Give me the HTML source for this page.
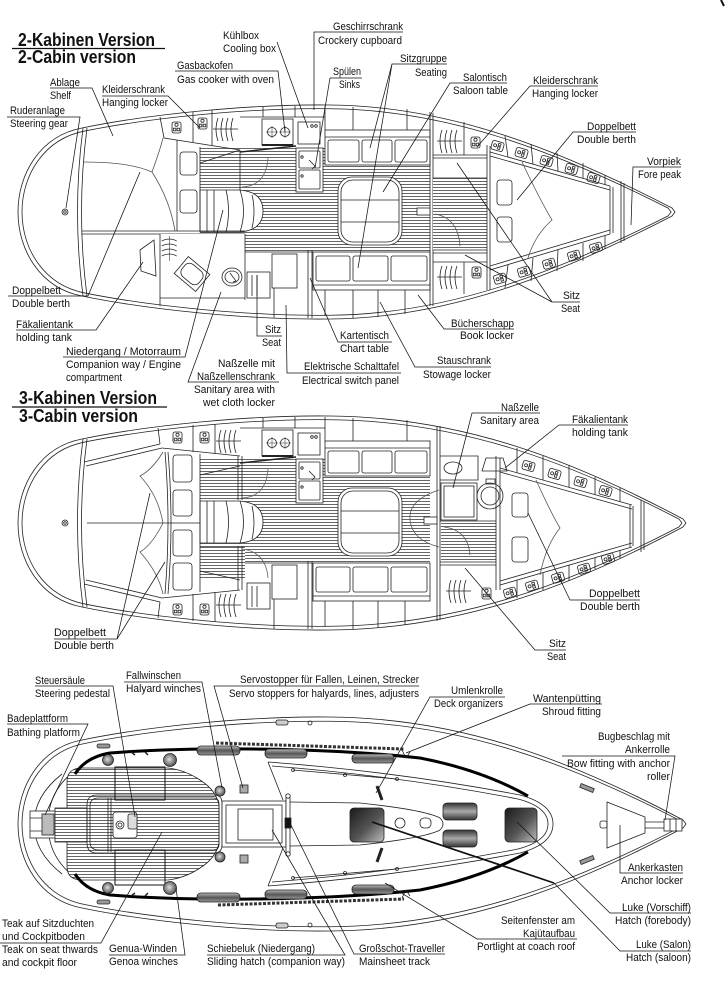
<!DOCTYPE html>
<html><head><meta charset="utf-8">
<style>
html,body{margin:0;padding:0;background:#fff;width:727px;height:1000px;overflow:hidden}
svg{display:block}
text{font-family:"Liberation Sans",Arial,sans-serif;font-size:11px;fill:#111}
text.t{font-size:18px;font-weight:bold}
</style></head><body>
<svg xmlns="http://www.w3.org/2000/svg" width="727" height="1000" viewBox="0 0 727 1000">
<defs>
<pattern id="hatch" width="8" height="3" patternUnits="userSpaceOnUse"><rect width="8" height="3" fill="#fff"/><path d="M0,1.5 H8" stroke="#555" stroke-width="0.9"/></pattern>
<linearGradient id="dk" x1="0" y1="0" x2="1" y2="1"><stop offset="0" stop-color="#1a1a1a"/><stop offset="0.55" stop-color="#555"/><stop offset="1" stop-color="#bdbdbd"/></linearGradient>
<linearGradient id="dk2" x1="0" y1="0" x2="0" y2="1"><stop offset="0" stop-color="#333"/><stop offset="0.5" stop-color="#aaa"/><stop offset="1" stop-color="#333"/></linearGradient>
<radialGradient id="wn" cx="0.45" cy="0.45" r="0.6"><stop offset="0" stop-color="#ddd"/><stop offset="1" stop-color="#444"/></radialGradient>
<linearGradient id="car" x1="0" y1="0" x2="0" y2="1"><stop offset="0" stop-color="#bbb"/><stop offset="0.5" stop-color="#555"/><stop offset="1" stop-color="#999"/></linearGradient>
<path id="h1" d="M82,-84 C150,-98 250,-108 330,-107 C450,-106 560,-62 672,-4 L675,0 L672,4 C560,62 450,106 330,107 C250,108 150,98 82,84 C40,76 18,38 18,0 C18,-38 40,-76 82,-84 Z"/>
<path id="h2" d="M82,-84 C150,-98 250,-108 330,-107 C463,-106 574,-62 683,-4 L686,0 L683,4 C574,62 463,106 330,107 C250,108 150,98 82,84 C40,76 18,38 18,0 C18,-38 40,-76 82,-84 Z"/>
<g id="clo"><path d="M0,13 H25 M5,2 Q1,13 5,25 M10,2 Q6,13 10,25 M15,2 Q11,13 15,25 M20,2 Q16,13 20,25"/></g>
<g id="ico"><rect x="0" y="0" width="9" height="11" rx="2"/><circle cx="4.5" cy="2.8" r="1.6"/><rect x="1.3" y="6.2" width="2.6" height="2.6"/><rect x="5.1" y="6.2" width="2.6" height="2.6"/></g>
<g id="ico2"><rect x="0" y="0" width="12" height="9" rx="2"/><circle cx="3.5" cy="4.5" r="1.5"/><rect x="6.5" y="1.6" width="2.4" height="2.4"/><rect x="6.5" y="5" width="2.4" height="2.4"/></g>
<g id="mid">
<rect x="200" y="148" width="230" height="104" fill="url(#hatch)" stroke="none"/>
<path d="M240,117 H325 M263,107 V117 M295,106 V117 M325,106 V130"/>
<rect x="262" y="119" width="31" height="26" fill="#fff"/>
<path d="M262,145 H293" stroke-width="2"/>
<circle cx="272" cy="132" r="4.5"/><circle cx="285" cy="132" r="4.5"/>
<path d="M266,132 H278 M272,126 V138 M279,132 H291 M285,126 V138" stroke-width="0.5"/>
<rect x="298" y="122" width="22" height="22" fill="#fff"/>
<circle cx="316" cy="126" r="1.3"/><circle cx="312" cy="126" r="1.3"/>
<rect x="296" y="148" width="27" height="44" fill="#fff"/>
<rect x="299" y="151" width="21" height="17" rx="1"/>
<rect x="299" y="170" width="21" height="19" rx="1"/>
<circle cx="302" cy="157" r="1.2"/><circle cx="302" cy="176" r="1.2"/>
<path d="M309,160 L315,166 L312,169"/>
<path d="M240,152 L296,146" stroke-width="1.4"/>
<rect x="325" y="130" width="105" height="35" fill="#fff"/>
<path d="M325,137 H430 M353,107 V130 M407,109 V130"/>
<rect x="328" y="140" width="31" height="22" rx="2"/>
<rect x="362" y="140" width="30" height="22" rx="2"/>
<rect x="395" y="140" width="32" height="22" rx="2"/>
<rect x="338" y="177" width="64" height="68" rx="14" fill="#fff"/>
<rect x="341" y="180" width="58" height="62" rx="12"/>
<path d="M341,200 H399 M341,222 H399"/>
<rect x="313" y="252" width="117" height="38" fill="#fff"/>
<rect x="316" y="256" width="34" height="25" rx="2"/>
<rect x="353" y="256" width="35" height="25" rx="2"/>
<rect x="391" y="256" width="36" height="25" rx="2"/>
<path d="M313,285 H430 M325,290 V316 M353,290 V318 M378,290 V317 M405,290 V314"/>
<path d="M245,252 H313 M308,250 V318 M312,250 V318"/>
<rect x="272" y="254" width="25" height="34" fill="#fff"/>
<rect x="247" y="272" width="23" height="26" fill="#fff"/>
<path d="M252,275 V296 M257,275 V296 M274,288 V318"/>
<path d="M200,190 H240 Q263,192 263,211 Q263,230 240,232 H200 Z" fill="#fff"/>
<path d="M207,190 V232 M214,190 V232 M226,190 Q231,211 226,232 M240,190 Q247,211 240,232 M252,195 Q256,211 252,228"/>
<path d="M242,187 Q266,186 268,158" stroke="#666"/>
</g>
</defs>
<rect width="727" height="1000" fill="#fff"/>
<path d="M721,0 L724,6" stroke="#111" stroke-width="2"/>

<!-- ============ HULL 1 ============ -->
<g fill="none" stroke="#222" stroke-width="0.8">
<g transform="translate(0,212)">
<use href="#h1"/>
<use href="#h1" transform="translate(352,0) scale(0.988,0.965) translate(-352,0)"/>
<path d="M83,-84 Q72,0 83,84 M87,-84 Q76,0 87,84"/>
<circle cx="65" cy="0" r="3"/><circle cx="65" cy="0" r="1.3"/>
</g>
<use href="#mid"/>
<path d="M82,231 H245 M82,234 H245"/>
<path d="M177,140 V231 M200,147 V231"/>
<rect x="180" y="152" width="17" height="23" rx="3"/>
<rect x="180" y="190" width="17" height="23" rx="3"/>
<path d="M84,162 Q130,162 152,172 Q160,150 163,138 M152,172 Q170,200 175,231" stroke="#555"/>
<path d="M160,117 L164,138 L240,150 M193,112 V142 M212,110 V146 M200,163 L240,150 M240,150 V190"/>
<use href="#ico" x="172" y="122"/>
<use href="#ico" x="198" y="118"/>
<use href="#clo" x="213" y="116"/>
<rect x="160" y="234" width="85" height="64" fill="#fff" stroke="none"/>
<path d="M160,234 V306 M245,234 V300 M160,298 H245"/>
<path d="M140,250 L154,240 L156,276 L141,271 Z"/>
<use href="#clo" transform="translate(178,236) rotate(90) scale(1,0.65)"/>
<g transform="translate(192,274) rotate(40)"><rect x="-14" y="-11" width="28" height="22"/><rect x="-11" y="-8" width="22" height="16" rx="6"/></g>
<ellipse cx="232" cy="277" rx="10" ry="9"/><ellipse cx="232" cy="277" rx="7" ry="6"/>
<path d="M230,273 L236,281 L233,282"/>
<path d="M430,112 V306 M433,113 V306"/>
<rect x="433" y="178" width="54" height="72" fill="url(#hatch)" stroke="none"/>
<path d="M433,155 H487 M433,158 H487 M433,178 H487 M433,250 H487 M433,253 H487 M433,262 H487 M464,122 V155 M464,262 V294"/>
<use href="#clo" x="437" y="128"/>
<use href="#ico" x="471" y="137"/>
<use href="#clo" x="437" y="264"/>
<use href="#ico" x="472" y="267"/>
<path d="M435,214 Q458,218 460,246" stroke="#555"/>
<rect x="417" y="208" width="13" height="7" fill="#fff"/>
<path d="M487,145 V290 M490,146 V290"/>
<path d="M490,152 L610,186 M490,156 L610,190 M490,270 L610,234 M490,266 L610,230"/>
<path d="M610,186 V234 M613,187 V233 M621,181 V243 M624,183 V241"/>
<path d="M508,157 L505,136 M533,164 L531,144 M558,171 L557,153 M583,178 L583,163 M605,185 L605,175"/>
<path d="M508,265 L505,288 M533,258 L531,281 M558,250 L557,271 M583,243 L583,261 M605,236 L605,249"/>
<use href="#ico2" transform="translate(493,140) rotate(16)"/>
<use href="#ico2" transform="translate(517,147) rotate(16)"/>
<use href="#ico2" transform="translate(542,155) rotate(16)"/>
<use href="#ico2" transform="translate(567,163) rotate(16)"/>
<use href="#ico2" transform="translate(589,172) rotate(16)"/>
<use href="#ico2" transform="translate(493,276) rotate(-16)"/>
<use href="#ico2" transform="translate(517,269) rotate(-16)"/>
<use href="#ico2" transform="translate(542,261) rotate(-16)"/>
<use href="#ico2" transform="translate(567,253) rotate(-16)"/>
<use href="#ico2" transform="translate(589,245) rotate(-16)"/>
<rect x="497" y="180" width="15" height="25" rx="3"/>
<rect x="497" y="217" width="15" height="25" rx="3"/>
<path d="M522,162 Q540,200 552,220 Q535,235 528,258" stroke="#555"/>
</g>

<!-- ============ HULL 2 ============ -->
<g fill="none" stroke="#222" stroke-width="0.8">
<g transform="translate(0,523)">
<use href="#h2"/>
<use href="#h2" transform="translate(352,0) scale(0.988,0.965) translate(-352,0)"/>
<path d="M83,-84 Q72,0 83,84 M87,-84 Q76,0 87,84"/>
<circle cx="65" cy="0" r="3"/><circle cx="65" cy="0" r="1.3"/>
</g>
<use href="#mid" y="311"/>
<rect x="200" y="547" width="45" height="33" fill="url(#hatch)" stroke="none"/>
<path d="M87,523 H200"/>
<path d="M84,462 L160,444 M86,466 L162,448 M84,584 L160,602 M86,580 L162,598"/>
<path d="M160,444 L158,428 M160,602 L158,618"/>
<path d="M162,448 L240,456 M162,598 L240,590 M193,425 V452 M215,424 V454 M193,594 V621 M215,592 V622"/>
<use href="#ico" x="173" y="432"/><use href="#ico" x="200" y="432"/><use href="#clo" x="216" y="428"/>
<use href="#ico" x="173" y="604"/><use href="#ico" x="200" y="604"/><use href="#clo" x="216" y="592"/>
<path d="M165,452 Q171,523 165,594 M168,452 Q174,523 168,594"/>
<rect x="173" y="455" width="19" height="27" rx="3"/><rect x="173" y="490" width="19" height="26" rx="3"/>
<rect x="173" y="530" width="19" height="26" rx="3"/><rect x="173" y="563" width="19" height="27" rx="3"/>
<path d="M200,454 V592"/>
<path d="M163,452 Q152,470 140,476 Q158,495 163,523 M163,523 Q152,545 140,552 Q158,572 163,594" stroke="#555"/>
<path d="M200,475 L240,466 M200,571 L240,580 M238,456 V500 M242,456 V500 M238,546 V590 M242,546 V590"/>
<path d="M242,549 Q266,552 268,578" stroke="#666"/>
<path d="M437,426 V621 M440,426 V620"/>
<rect x="441" y="523" width="55" height="38" fill="url(#hatch)" stroke="none"/>
<path d="M439,490 Q408,500 410,520 Q412,540 439,547" stroke="#555"/>
<rect x="424" y="517" width="13" height="7" fill="#fff"/>
<path d="M440,456 H478 V480 H440"/>
<ellipse cx="453" cy="468" rx="9" ry="6"/>
<rect x="441" y="483" width="36" height="37" fill="#fff"/>
<rect x="444" y="486" width="30" height="31"/>
<circle cx="490" cy="496" r="13"/><circle cx="490" cy="496" r="9"/>
<rect x="486" y="479" width="9" height="5"/>
<path d="M482,471 L486,458 H503 L507,471 Z"/>
<path d="M440,521 H496 M440,562 H496 M440,565 H496"/>
<path d="M444,527 Q468,530 470,555" stroke="#555"/>
<use href="#clo" x="446" y="578"/>
<use href="#ico" x="482" y="588"/>
<path d="M496,456 V590 M500,458 V590"/>
<path d="M500,468 L632,505 M500,472 L632,509 M500,581 L632,543 M500,585 L632,547"/>
<path d="M630,505 V547 M633,506 V546 M641,500 V552 M644,502 V550"/>
<path d="M517,473 L517,448 M543,480 L543,456 M569,487 L569,465 M595,495 L595,477 M620,502 L620,488"/>
<path d="M517,580 L517,598 M543,573 L543,590 M569,565 L569,581 M595,558 L595,569 M620,550 L620,558"/>
<use href="#ico2" transform="translate(524,460) rotate(16)"/>
<use href="#ico2" transform="translate(550,468) rotate(16)"/>
<use href="#ico2" transform="translate(576,476) rotate(16)"/>
<use href="#ico2" transform="translate(601,485) rotate(16)"/>
<use href="#ico2" transform="translate(503,590) rotate(-16)"/>
<use href="#ico2" transform="translate(525,583) rotate(-16)"/>
<use href="#ico2" transform="translate(551,575) rotate(-16)"/>
<use href="#ico2" transform="translate(577,566) rotate(-16)"/>
<use href="#ico2" transform="translate(601,556) rotate(-16)"/>
<rect x="512" y="493" width="16" height="24" rx="3"/>
<rect x="512" y="537" width="16" height="25" rx="3"/>
<path d="M536,480 Q552,515 560,528 Q546,545 540,575" stroke="#555"/>
</g>

<!-- ============ DECK ============ -->
<g fill="none" stroke="#222" stroke-width="0.8">
<g transform="translate(0,824)">
<use href="#h2"/>
<use href="#h2" transform="translate(352,0) scale(0.988,0.96) translate(-352,0)"/>
</g>
<path d="M76,770 Q48,790 48,824 Q48,858 76,878"/>
<path d="M62,774 Q34,796 34,824 Q34,852 62,874"/>
<rect x="30" y="811" width="26" height="27" fill="#fff"/>
<rect x="42" y="814" width="12" height="21" fill="#bbb"/>
<path d="M30,818 H42 M30,831 H42"/>
<path d="M67,782 Q67,768 82,768 H168 Q185,770 200,780 Q216,790 219,805 V843 Q216,858 200,868 Q185,878 168,880 H82 Q67,880 67,866 Z" fill="url(#hatch)"/>
<rect x="55" y="808" width="32" height="34" fill="url(#hatch)"/>
<path d="M97,795 H214 Q222,795 222,803 V845 Q222,853 214,853 H97 Q87,853 87,843 V805 Q87,795 97,795 Z"/>
<path d="M99,798 H213 Q219,798 219,804 V844 Q219,850 213,850 H99 Q90,850 90,842 V806 Q90,798 99,798 Z"/>
<rect x="115" y="767" width="50" height="33" stroke="#111" stroke-width="1"/>
<rect x="115" y="850" width="50" height="35" stroke="#111" stroke-width="1"/>
<path d="M108,798 V852 M111,798 V852"/>
<rect x="113" y="812" width="24" height="26" rx="3" fill="#fff"/>
<circle cx="120" cy="825" r="4"/><circle cx="120" cy="825" r="2"/>
<rect x="128" y="814" width="9" height="15" rx="2" fill="#ddd"/>
<path d="M75,774 Q86,757 110,753 C200,746 330,748 420,758 Q482,770 528,796" stroke="#000" stroke-width="3"/>
<path d="M75,874 Q86,891 110,895 C200,902 330,900 420,890 Q482,878 528,852" stroke="#000" stroke-width="3"/>
<path d="M216,743 L404,749" stroke="#333" stroke-width="3" stroke-dasharray="3 1.5"/>
<path d="M218,905 L404,899" stroke="#333" stroke-width="3" stroke-dasharray="3 1.5"/>
<rect x="197" y="746" width="43" height="9" rx="4" fill="url(#car)"/>
<rect x="265" y="749" width="42" height="9" rx="4" fill="url(#car)"/>
<rect x="352" y="754" width="42" height="9" rx="4" fill="url(#car)"/>
<rect x="197" y="893" width="43" height="9" rx="4" fill="url(#car)"/>
<rect x="265" y="890" width="42" height="9" rx="4" fill="url(#car)"/>
<rect x="352" y="885" width="42" height="9" rx="4" fill="url(#car)"/>
<circle cx="108" cy="760" r="5.5" fill="url(#wn)"/><circle cx="170" cy="760" r="6.5" fill="url(#wn)"/><circle cx="220" cy="791" r="5" fill="url(#wn)"/>
<circle cx="108" cy="888" r="5.5" fill="url(#wn)"/><circle cx="170" cy="888" r="6.5" fill="url(#wn)"/><circle cx="220" cy="857" r="5" fill="url(#wn)"/>
<rect x="240" y="785" width="8" height="8" fill="#aaa"/><rect x="240" y="855" width="8" height="8" fill="#aaa"/>
<path d="M131,752 l4,3 M145,752 l3,3 M131,896 l4,-3 M145,896 l3,-3" stroke-width="1.5"/>
<rect x="222" y="801" width="64" height="46" fill="#fff"/>
<rect x="226" y="805" width="56" height="38"/>
<rect x="238" y="809" width="35" height="31"/>
<rect x="286" y="795" width="4" height="60" fill="#fff"/>
<rect x="285" y="818" width="6" height="10" fill="#111"/>
<circle cx="288" cy="796" r="2.2" fill="#fff"/><circle cx="288" cy="854" r="2.2" fill="#fff"/>
<path d="M268,762 Q400,772 520,795 Q553,804 553,824 Q553,844 520,853 Q400,876 268,886"/>
<path d="M272,766 Q400,776 518,799 Q548,807 548,824 Q548,841 518,849 Q400,872 272,882"/>
<path d="M268,762 L283,800 M268,886 L283,848"/>
<path d="M290,802 L360,803 Q425,810 440,818 Q446,824 440,830 Q425,838 360,845 L290,846"/>
<path d="M293,770 L397,779 M293,878 L397,869"/>
<circle cx="293" cy="770" r="1.5"/><circle cx="345" cy="775" r="1.5"/><circle cx="397" cy="779" r="1.5"/>
<circle cx="293" cy="878" r="1.5"/><circle cx="345" cy="873" r="1.5"/><circle cx="397" cy="869" r="1.5"/>
<rect x="350" y="808" width="34" height="34" rx="4" fill="url(#dk)"/>
<circle cx="400" cy="823" r="5"/>
<rect x="420" y="818" width="11" height="10" rx="4"/>
<rect x="443" y="803" width="34" height="17" rx="4" fill="url(#dk2)"/>
<rect x="443" y="830" width="34" height="17" rx="4" fill="url(#dk2)"/>
<rect x="505" y="808" width="32" height="34" rx="4" fill="url(#dk)"/>
<path d="M377,786 L382,800 M377,862 L382,848" stroke-width="3"/>
<path d="M402,750 L406,758 L410,752 M402,898 L406,890 L410,896"/>
<rect x="276" y="720" width="12" height="5" rx="2" fill="#ccc"/><circle cx="310" cy="723" r="2"/>
<rect x="276" y="923" width="12" height="5" rx="2" fill="#ccc"/><circle cx="310" cy="925" r="2"/>
<rect x="97" y="744" width="13" height="4" rx="2" fill="#999"/><rect x="97" y="900" width="13" height="4" rx="2" fill="#999"/>
<rect x="580" y="786" width="14" height="4" transform="rotate(22 587 788)" fill="#999"/>
<rect x="580" y="858" width="14" height="4" transform="rotate(-22 587 860)" fill="#999"/>
<path d="M607,802 L645,817 L645,833 L607,848 Z"/>
<rect x="600" y="821" width="7" height="7" rx="2"/>
<path d="M645,822 H665 M645,828 H665"/>
<rect x="664" y="819" width="18" height="12" fill="#fff"/>
<path d="M670,819 V831 M676,819 V831"/>
</g>

<!-- ============ TITLES ============ -->
<text class="t" x="18" y="46" textLength="137" lengthAdjust="spacingAndGlyphs">2-Kabinen Version</text>
<text class="t" x="18" y="63" textLength="118" lengthAdjust="spacingAndGlyphs">2-Cabin version</text>
<path d="M12,48.5 H165 M12,407 H167" stroke="#111" stroke-width="1.3"/>
<text class="t" x="19" y="404" textLength="138" lengthAdjust="spacingAndGlyphs">3-Kabinen Version</text>
<text class="t" x="19" y="422" textLength="119" lengthAdjust="spacingAndGlyphs">3-Cabin version</text>

<!-- ============ LEADERS ============ -->
<g fill="none" stroke="#111" stroke-width="0.75">
<path d="M277,42 L308,128"/>
<path d="M403,32 H314 V110"/>
<path d="M175,71 H278 L285,132"/>
<path d="M50,88 H92 L113,136"/>
<path d="M102,96 H168 L200,128"/>
<path d="M7,117 H80 L66,208"/>
<path d="M362,78 H330 L315,168"/>
<path d="M447,64 H392 L370,148 M392,64 L358,268"/>
<path d="M507,83 H450 L383,192"/>
<path d="M598,86 H530 L477,147"/>
<path d="M636,132 H573 L517,200"/>
<path d="M681,167 H633 L631,225"/>
<path d="M8,296 H88 L140,172"/>
<path d="M16,330 H96 L143,262"/>
<path d="M63,357 H185 L223,210"/>
<path d="M279,382 H188 L221,292"/>
<path d="M282,336 H257 V275"/>
<path d="M392,342 H338 L310,278"/>
<path d="M401,373 H287 L286,305"/>
<path d="M491,367 H415 L380,302"/>
<path d="M514,329 H444 L418,295"/>
<path d="M580,302 H552 L457,163 M552,302 L465,255"/>
<path d="M540,413 H472 L453,488"/>
<path d="M628,425 H559 L505,468"/>
<path d="M640,600 H570 L528,513"/>
<path d="M566,650 H535 L465,568"/>
<path d="M54,639 H117 L150,493 M117,639 L165,562"/>
<path d="M35,686 H113 L135,817"/>
<path d="M124,682 H202 L222,788"/>
<path d="M419,686 H214 L243,788"/>
<path d="M505,697 H430 L376,793"/>
<path d="M602,704 H530 L406,753"/>
<path d="M7,724 H88 L45,815"/>
<path d="M562,756 H675 L665,820"/>
<path d="M683,873 H620 V825"/>
<path d="M691,913 H610 L517,822"/>
<path d="M691,951 H620 L554,883"/>
<path d="M554,883 L372,822" stroke-width="1.7"/>
<path d="M577,939 H477 L385,883"/>
<path d="M445,954 H354 L290,823"/>
<path d="M207,955 H345 L272,830"/>
<path d="M109,955 H185 L176,888"/>
<path d="M0,943 H101 L162,832"/>
</g>

<!-- ============ LABELS ============ -->
<g>
<text x="223" y="39" textLength="36" lengthAdjust="spacingAndGlyphs">Kühlbox</text>
<text x="223" y="52" textLength="53" lengthAdjust="spacingAndGlyphs">Cooling box</text>
<text x="333" y="30" textLength="70" lengthAdjust="spacingAndGlyphs">Geschirrschrank</text>
<text x="318" y="44" textLength="84" lengthAdjust="spacingAndGlyphs">Crockery cupboard</text>
<text x="177" y="69" textLength="56" lengthAdjust="spacingAndGlyphs">Gasbackofen</text>
<text x="177" y="83" textLength="97" lengthAdjust="spacingAndGlyphs">Gas cooker with oven</text>
<text x="50" y="86" textLength="30" lengthAdjust="spacingAndGlyphs">Ablage</text>
<text x="50" y="99" textLength="21" lengthAdjust="spacingAndGlyphs">Shelf</text>
<text x="102" y="93" textLength="63" lengthAdjust="spacingAndGlyphs">Kleiderschrank</text>
<text x="102" y="106" textLength="66" lengthAdjust="spacingAndGlyphs">Hanging locker</text>
<text x="10" y="114" textLength="55" lengthAdjust="spacingAndGlyphs">Ruderanlage</text>
<text x="10" y="127" textLength="58" lengthAdjust="spacingAndGlyphs">Steering gear</text>
<text x="333" y="75" textLength="28" lengthAdjust="spacingAndGlyphs">Spülen</text>
<text x="339" y="88" textLength="21" lengthAdjust="spacingAndGlyphs">Sinks</text>
<text x="400" y="62" textLength="47" lengthAdjust="spacingAndGlyphs">Sitzgruppe</text>
<text x="415" y="76" textLength="32" lengthAdjust="spacingAndGlyphs">Seating</text>
<text x="463" y="81" textLength="44" lengthAdjust="spacingAndGlyphs">Salontisch</text>
<text x="453" y="94" textLength="55" lengthAdjust="spacingAndGlyphs">Saloon table</text>
<text x="533" y="84" textLength="65" lengthAdjust="spacingAndGlyphs">Kleiderschrank</text>
<text x="532" y="97" textLength="66" lengthAdjust="spacingAndGlyphs">Hanging locker</text>
<text x="587" y="130" textLength="49" lengthAdjust="spacingAndGlyphs">Doppelbett</text>
<text x="577" y="143" textLength="59" lengthAdjust="spacingAndGlyphs">Double berth</text>
<text x="647" y="165" textLength="34" lengthAdjust="spacingAndGlyphs">Vorpiek</text>
<text x="638" y="178" textLength="43" lengthAdjust="spacingAndGlyphs">Fore peak</text>
<text x="12" y="294" textLength="49" lengthAdjust="spacingAndGlyphs">Doppelbett</text>
<text x="12" y="307" textLength="58" lengthAdjust="spacingAndGlyphs">Double berth</text>
<text x="16" y="328" textLength="57" lengthAdjust="spacingAndGlyphs">Fäkalientank</text>
<text x="16" y="341" textLength="56" lengthAdjust="spacingAndGlyphs">holding tank</text>
<text x="66" y="355" textLength="115" lengthAdjust="spacingAndGlyphs">Niedergang / Motorraum</text>
<text x="66" y="368" textLength="115" lengthAdjust="spacingAndGlyphs">Companion way / Engine</text>
<text x="66" y="381" textLength="56" lengthAdjust="spacingAndGlyphs">compartment</text>
<text x="218" y="367" textLength="57" lengthAdjust="spacingAndGlyphs">Naßzelle mit</text>
<text x="197" y="380" textLength="78" lengthAdjust="spacingAndGlyphs">Naßzellenschrank</text>
<text x="194" y="393" textLength="81" lengthAdjust="spacingAndGlyphs">Sanitary area with</text>
<text x="203" y="406" textLength="72" lengthAdjust="spacingAndGlyphs">wet cloth locker</text>
<text x="265" y="333" textLength="16" lengthAdjust="spacingAndGlyphs">Sitz</text>
<text x="262" y="346" textLength="19" lengthAdjust="spacingAndGlyphs">Seat</text>
<text x="340" y="339" textLength="49" lengthAdjust="spacingAndGlyphs">Kartentisch</text>
<text x="340" y="352" textLength="49" lengthAdjust="spacingAndGlyphs">Chart table</text>
<text x="304" y="370" textLength="95" lengthAdjust="spacingAndGlyphs">Elektrische Schalttafel</text>
<text x="302" y="384" textLength="97" lengthAdjust="spacingAndGlyphs">Electrical switch panel</text>
<text x="437" y="364" textLength="54" lengthAdjust="spacingAndGlyphs">Stauschrank</text>
<text x="423" y="378" textLength="68" lengthAdjust="spacingAndGlyphs">Stowage locker</text>
<text x="451" y="327" textLength="63" lengthAdjust="spacingAndGlyphs">Bücherschapp</text>
<text x="460" y="339" textLength="54" lengthAdjust="spacingAndGlyphs">Book locker</text>
<text x="563" y="299" textLength="17" lengthAdjust="spacingAndGlyphs">Sitz</text>
<text x="561" y="312" textLength="19" lengthAdjust="spacingAndGlyphs">Seat</text>

<text x="501" y="411" textLength="38" lengthAdjust="spacingAndGlyphs">Naßzelle</text>
<text x="480" y="424" textLength="59" lengthAdjust="spacingAndGlyphs">Sanitary area</text>
<text x="572" y="423" textLength="56" lengthAdjust="spacingAndGlyphs">Fäkalientank</text>
<text x="572" y="436" textLength="56" lengthAdjust="spacingAndGlyphs">holding tank</text>
<text x="589" y="597" textLength="51" lengthAdjust="spacingAndGlyphs">Doppelbett</text>
<text x="580" y="610" textLength="60" lengthAdjust="spacingAndGlyphs">Double berth</text>
<text x="549" y="647" textLength="17" lengthAdjust="spacingAndGlyphs">Sitz</text>
<text x="547" y="660" textLength="19" lengthAdjust="spacingAndGlyphs">Seat</text>
<text x="54" y="636" textLength="52" lengthAdjust="spacingAndGlyphs">Doppelbett</text>
<text x="54" y="649" textLength="60" lengthAdjust="spacingAndGlyphs">Double berth</text>

<text x="35" y="684" textLength="50" lengthAdjust="spacingAndGlyphs">Steuersäule</text>
<text x="35" y="697" textLength="75" lengthAdjust="spacingAndGlyphs">Steering pedestal</text>
<text x="126" y="679" textLength="55" lengthAdjust="spacingAndGlyphs">Fallwinschen</text>
<text x="126" y="692" textLength="75" lengthAdjust="spacingAndGlyphs">Halyard winches</text>
<text x="240" y="683" textLength="179" lengthAdjust="spacingAndGlyphs">Servostopper für Fallen, Leinen, Strecker</text>
<text x="229" y="697" textLength="190" lengthAdjust="spacingAndGlyphs">Servo stoppers for halyards, lines, adjusters</text>
<text x="451" y="694" textLength="52" lengthAdjust="spacingAndGlyphs">Umlenkrolle</text>
<text x="434" y="707" textLength="69" lengthAdjust="spacingAndGlyphs">Deck organizers</text>
<text x="533" y="702" textLength="68" lengthAdjust="spacingAndGlyphs">Wantenpütting</text>
<text x="542" y="715" textLength="59" lengthAdjust="spacingAndGlyphs">Shroud fitting</text>
<text x="7" y="722" textLength="61" lengthAdjust="spacingAndGlyphs">Badeplattform</text>
<text x="7" y="736" textLength="73" lengthAdjust="spacingAndGlyphs">Bathing platform</text>
<text x="598" y="740" textLength="72" lengthAdjust="spacingAndGlyphs">Bugbeschlag mit</text>
<text x="625" y="753" textLength="45" lengthAdjust="spacingAndGlyphs">Ankerrolle</text>
<text x="567" y="767" textLength="103" lengthAdjust="spacingAndGlyphs">Bow fitting with anchor</text>
<text x="647" y="780" textLength="23" lengthAdjust="spacingAndGlyphs">roller</text>
<text x="628" y="871" textLength="55" lengthAdjust="spacingAndGlyphs">Ankerkasten</text>
<text x="621" y="884" textLength="62" lengthAdjust="spacingAndGlyphs">Anchor locker</text>
<text x="622" y="911" textLength="69" lengthAdjust="spacingAndGlyphs">Luke (Vorschiff)</text>
<text x="615" y="924" textLength="76" lengthAdjust="spacingAndGlyphs">Hatch (forebody)</text>
<text x="636" y="948" textLength="55" lengthAdjust="spacingAndGlyphs">Luke (Salon)</text>
<text x="626" y="961" textLength="65" lengthAdjust="spacingAndGlyphs">Hatch (saloon)</text>
<text x="501" y="924" textLength="74" lengthAdjust="spacingAndGlyphs">Seitenfenster am</text>
<text x="523" y="937" textLength="52" lengthAdjust="spacingAndGlyphs">Kajütaufbau</text>
<text x="477" y="950" textLength="98" lengthAdjust="spacingAndGlyphs">Portlight at coach roof</text>
<text x="359" y="952" textLength="86" lengthAdjust="spacingAndGlyphs">Großschot-Traveller</text>
<text x="359" y="965" textLength="71" lengthAdjust="spacingAndGlyphs">Mainsheet track</text>
<text x="207" y="952" textLength="108" lengthAdjust="spacingAndGlyphs">Schiebeluk (Niedergang)</text>
<text x="207" y="965" textLength="138" lengthAdjust="spacingAndGlyphs">Sliding hatch (companion way)</text>
<text x="109" y="952" textLength="68" lengthAdjust="spacingAndGlyphs">Genua-Winden</text>
<text x="109" y="965" textLength="69" lengthAdjust="spacingAndGlyphs">Genoa winches</text>
<text x="2" y="927" textLength="92" lengthAdjust="spacingAndGlyphs">Teak auf Sitzduchten</text>
<text x="2" y="940" textLength="83" lengthAdjust="spacingAndGlyphs">und Cockpitboden</text>
<text x="2" y="953" textLength="96" lengthAdjust="spacingAndGlyphs">Teak on seat thwards</text>
<text x="2" y="966" textLength="75" lengthAdjust="spacingAndGlyphs">and cockpit floor</text>
</g>
</svg>
</body></html>
